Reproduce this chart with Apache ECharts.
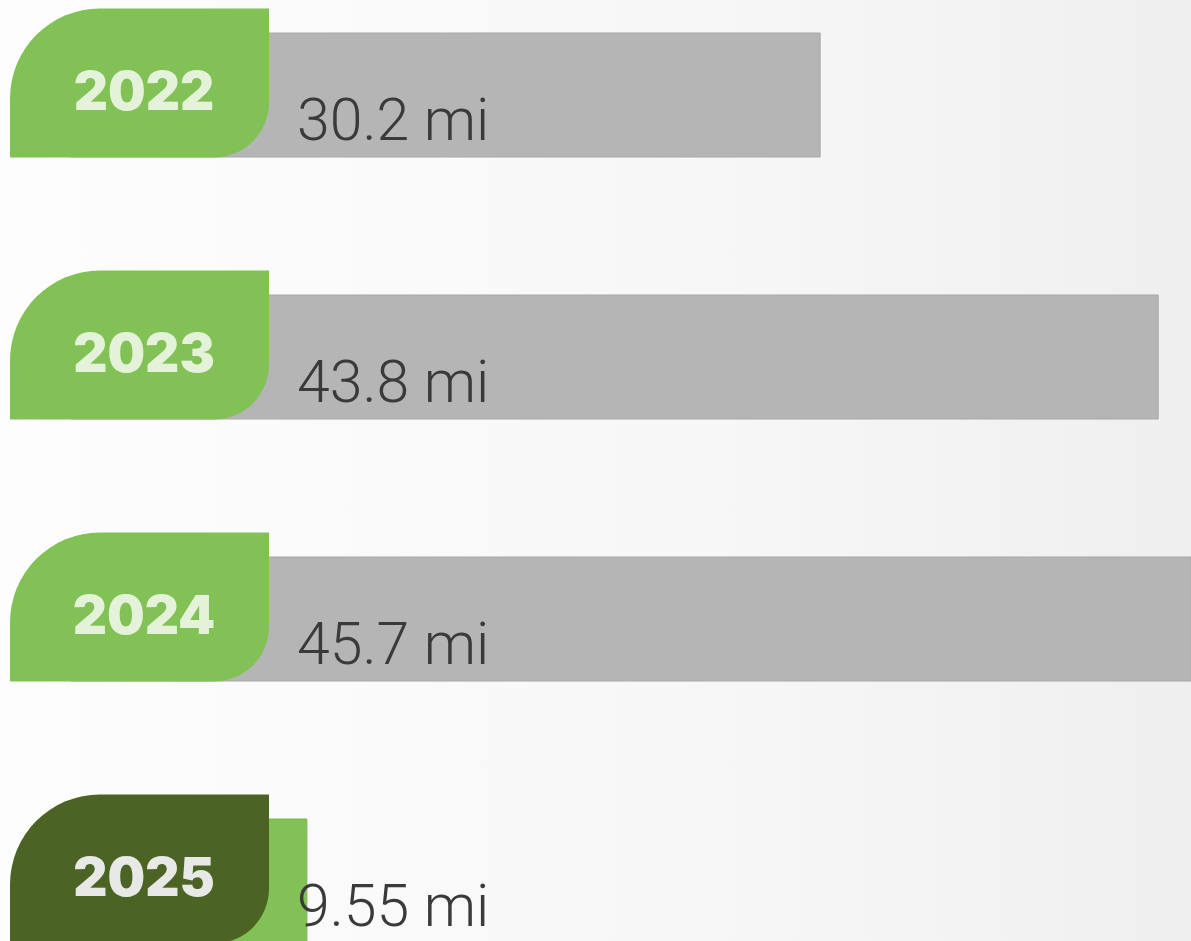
<!DOCTYPE html>
<html>
<head>
<meta charset="utf-8">
<script src="https://cdn.jsdelivr.net/npm/echarts@6/dist/echarts.min.js"></script>
<style>
  html, body { margin: 0; padding: 0; overflow: hidden; width: 1191px; height: 941px;
    background: linear-gradient(to right, #fdfdfd 0%, #f7f7f7 60%, #efefef 100%); }
  /* chart box runs past the window so the last bar is cut off like the original */
  #chart { position: absolute; left: 0; top: -36px; width: 1191px; height: 1048px; }
</style>
</head>
<body>
<div id="chart"></div>
<script>
// yearly distance, current year highlighted
const years = ['2022', '2023', '2024', '2025'];
const distances = [30.2, 43.8, 45.7, 9.55];
const unit = 'mi';
const currentIdx = 3;

const GREY = '#b5b5b5';
const GREEN = '#82c155';
const DARK_GREEN = '#4b6323';

const chart = echarts.init(document.getElementById('chart'));

chart.setOption({
  backgroundColor: 'transparent',
  animation: false,
  grid: { left: 70, right: 0, top: 0, bottom: 0 },
  xAxis: { type: 'value', min: 0, max: 45.1, show: false },
  yAxis: { type: 'category', data: years, inverse: true, show: false },
  series: [
    {
      type: 'bar',
      barWidth: 125,
      z: 2,
      data: distances.map((v, i) => ({
        value: v,
        itemStyle: {
          color: i === currentIdx ? GREEN : GREY,
          borderColor: i === currentIdx ? '#79b64d' : '#a8a8a8',
          borderWidth: 1
        },
        label: { color: '#3a3a3a' }
      })),
      label: {
        show: true,
        position: [227, 93],
        verticalAlign: 'middle',
        fontFamily: 'Roboto',
        fontWeight: 300,
        fontSize: 59,
        formatter: p => p.value + ' ' + unit
      }
    },
    {
      // leaf shaped year tags
      type: 'custom',
      z: 3,
      data: years.map((y, i) => [0, i]),
      renderItem: (params, api) => {
        const idx = api.value(1);
        const p = api.coord([0, idx]);
        const top = p[1] - 62.5 - 24;
        const left = p[0] - 60;
        const cur = idx === currentIdx;
        return {
          type: 'group',
          children: [
            {
              type: 'rect',
              shape: { x: left, y: top, width: 259, height: 149, r: [90, 0, 55, 0] },
              style: { fill: cur ? DARK_GREEN : GREEN }
            },
            {
              type: 'text',
              x: left + 134,
              y: top + 86,
              style: {
                text: years[idx],
                align: 'center',
                verticalAlign: 'middle',
                textAlign: 'center',
                textVerticalAlign: 'middle',
                fontFamily: 'Inter',
                fontWeight: 900,
                fontSize: 53,
                fill: cur ? '#e8e8e6' : '#e4f2da',
                shadowColor: 'rgba(0,0,0,0.35)',
                shadowBlur: 4,
                shadowOffsetY: 2
              }
            }
          ]
        };
      }
    }
  ]
});
</script>
</body>
</html>
